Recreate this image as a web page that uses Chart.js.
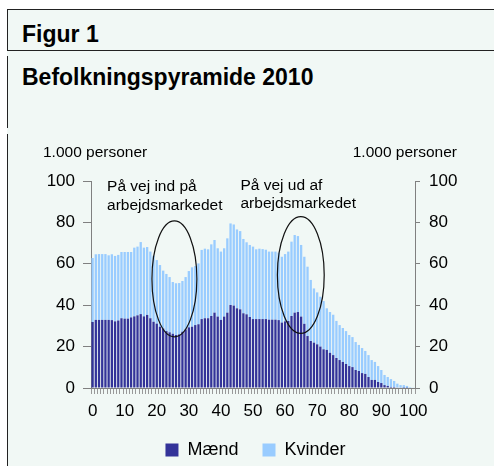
<!DOCTYPE html>
<html>
<head>
<meta charset="utf-8">
<script src="https://cdn.jsdelivr.net/npm/chart.js@4/dist/chart.umd.min.js"></script>
<style>
  html, body { margin: 0; padding: 0; width: 494px; height: 466px; overflow: hidden; background: #fff; }
  body { font-family: Arial, "Liberation Sans", sans-serif; }
  #baggrund { position: absolute; left: 7px; top: 9px; width: 487px; height: 457px; background: #f1f8f5; border-top: 1px solid #222; }
  .streg { position: absolute; background: #222; }
  .titel { position: absolute; left: 22px; font-weight: bold; font-size: 23px; line-height: 23px; color: #000; white-space: nowrap; }
  #graf { position: absolute; left: 0; top: 0; }
</style>
</head>
<body>
<div id="baggrund"></div>
<div class="streg" style="left:7px;top:9px;width:1px;height:42px"></div>
<div class="streg" style="left:7px;top:50px;width:487px;height:1px"></div>
<div class="streg" style="left:7px;top:56px;width:1px;height:72px"></div>
<div class="streg" style="left:7px;top:134px;width:1px;height:332px"></div>
<div class="titel" style="top:23px">Figur 1</div>
<div class="titel" style="top:66px">Befolkningspyramide 2010</div>
<canvas id="graf" width="494" height="480"></canvas>

<script>
// Alder 0-100 år
const alder = [
  '0','1','2','3','4','5','6','7','8','9',
  '10','11','12','13','14','15','16','17','18','19',
  '20','21','22','23','24','25','26','27','28','29',
  '30','31','32','33','34','35','36','37','38','39',
  '40','41','42','43','44','45','46','47','48','49',
  '50','51','52','53','54','55','56','57','58','59',
  '60','61','62','63','64','65','66','67','68','69',
  '70','71','72','73','74','75','76','77','78','79',
  '80','81','82','83','84','85','86','87','88','89',
  '90','91','92','93','94','95','96','97','98','99','100'
];

// Antal mænd (1.000 personer)
const maend = [
  31.9, 32.9, 32.9, 32.9, 32.9, 32.9, 32.8, 32.2, 32.6, 33.7,
  33.5, 33.5, 34.1, 34.6, 35.1, 35.7, 34.6, 35.3, 33.7, 32.0,
  31.1, 29.6, 28.7, 27.5, 26.9, 26.2, 25.6, 25.9, 27.2, 28.3,
  29.3, 29.6, 30.4, 30.8, 33.3, 33.7, 33.7, 34.8, 36.4, 34.5,
  32.9, 34.5, 36.4, 40.1, 39.8, 38.5, 38.0, 36.1, 35.6, 34.3,
  33.3, 33.3, 33.3, 33.3, 33.3, 33.0, 33.0, 33.0, 32.8, 31.6,
  32.2, 32.4, 34.8, 36.4, 36.7, 34.5, 31.0, 25.1, 22.7, 21.9,
  21.1, 20.0, 18.7, 18.4, 17.0, 15.9, 14.5, 13.5, 12.6, 11.6,
  10.6, 10.1, 8.7, 8.2, 7.2, 6.8, 5.3, 3.9, 3.9, 2.9,
  2.4, 1.4, 1.0, 0.5, 0.5, 0.3, 0.2, 0.1, 0.1, 0, 0
];

// Antal kvinder (1.000 personer)
const kvinder = [
  30.9, 31.7, 31.8, 31.8, 31.8, 31.2, 31.8, 31.6, 31.7, 32.0,
  32.2, 32.2, 31.6, 33.2, 33.2, 34.8, 33.2, 32.8, 32.2, 31.9,
  30.7, 29.8, 28.0, 27.6, 26.7, 25.0, 25.0, 24.8, 24.5, 25.3,
  27.2, 28.7, 28.5, 29.4, 33.4, 33.6, 33.3, 34.6, 35.1, 33.0,
  33.0, 33.0, 35.9, 39.4, 39.2, 38.1, 37.8, 35.9, 34.8, 34.8,
  35.0, 33.7, 34.0, 33.8, 33.5, 32.9, 32.9, 32.9, 32.6, 31.8,
  32.5, 33.5, 35.9, 37.5, 36.7, 34.6, 32.4, 33.5, 29.5, 26.2,
  25.1, 24.1, 23.3, 20.1, 19.7, 19.5, 17.9, 16.9, 16.4, 15.9,
  15.0, 14.5, 13.5, 12.6, 12.1, 11.1, 10.6, 9.6, 8.7, 7.7,
  6.3, 4.9, 4.3, 3.8, 2.9, 1.8, 1.2, 1.3, 0.9, 0.5, 0.3
];

// Aksemærker
const xTicks = ['0','10','20','30','40','50','60','70','80','90','100'];
const yTicks = [0, 20, 40, 60, 80, 100];

// Ellipser og tekster (i aksernes enheder: alder, 1.000 personer)
const ellipser = [
  { alder: 25.5, vaerdi: 52.7, rx: 7.0, ry: 28.0 },
  { alder: 64.9, vaerdi: 54.6, rx: 7.3, ry: 28.2 }
];
const tekster = [
  { alder: 4.5, vaerdi: 95.3, tekst: 'På vej ind på' },
  { alder: 4.5, vaerdi: 86.2, tekst: 'arbejdsmarkedet' },
  { alder: 46.1, vaerdi: 95.7, tekst: 'På vej ud af' },
  { alder: 46.1, vaerdi: 87.0, tekst: 'arbejdsmarkedet' }
];

const skrift = 'Arial, "Liberation Sans", sans-serif';
Chart.defaults.font.family = skrift;
Chart.defaults.color = '#000';

// Tegner ellipser, tekster og enhedsangivelser
const ekstra = {
  id: 'ekstra',
  afterDatasetsDraw(chart) {
    const { ctx, chartArea, scales } = chart;
    const x = scales.x, y = scales.y;
    ctx.save();
    ctx.strokeStyle = '#111';
    ctx.lineWidth = 1.2;
    ellipser.forEach(e => {
      const cx = x.getPixelForValue(e.alder);
      const cy = y.getPixelForValue(e.vaerdi);
      const rx = x.getPixelForValue(e.alder + e.rx) - cx;
      const ry = cy - y.getPixelForValue(e.vaerdi + e.ry);
      ctx.beginPath();
      ctx.ellipse(cx, cy, rx, ry, 0, 0, Math.PI * 2);
      ctx.stroke();
    });
    ctx.fillStyle = '#000';
    ctx.font = '15.5px ' + skrift;
    ctx.textBaseline = 'alphabetic';
    ctx.textAlign = 'left';
    tekster.forEach(t => {
      ctx.fillText(t.tekst, x.getPixelForValue(t.alder), y.getPixelForValue(t.vaerdi));
    });
    ctx.font = '15.5px ' + skrift;
    ctx.fillText('1.000 personer', chartArea.left - 48, 157);
    ctx.textAlign = 'right';
    ctx.fillText('1.000 personer', chartArea.right + 42, 157);
    ctx.restore();
  }
};

const ctx = document.getElementById('graf').getContext('2d');
new Chart(ctx, {
  type: 'bar',
  data: {
    labels: alder,
    datasets: [
      { label: 'Mænd', data: maend, backgroundColor: '#333399', barPercentage: 0.72, categoryPercentage: 1.0 },
      { label: 'Kvinder', data: kvinder, backgroundColor: '#99ccff', barPercentage: 0.72, categoryPercentage: 1.0 }
    ]
  },
  options: {
    responsive: false,
    animation: false,
    layout: { padding: { top: 181, left: 17, right: 0, bottom: 11 } },
    plugins: {
      tooltip: { enabled: false },
      legend: {
        position: 'bottom',
        labels: { boxWidth: 13, boxHeight: 13, padding: 24, font: { size: 18 } }
      }
    },
    scales: {
      x: {
        stacked: true,
        afterFit: s => { s.height = 29; },
        border: { color: '#808080' },
        grid: { drawOnChartArea: false, tickLength: 6, color: '#999' },
        ticks: {
          autoSkip: false, maxRotation: 0, padding: 7, font: { size: 17 },
          callback: (v, i) => xTicks.includes(alder[i]) ? alder[i] : ''
        }
      },
      y: {
        stacked: true,
        position: 'left',
        min: 0, max: 100,
        afterFit: s => { s.width = 74; },
        afterBuildTicks: s => { s.ticks = yTicks.map(v => ({ value: v })); },
        border: { color: '#808080' },
        grid: { drawOnChartArea: false, tickLength: 8, color: '#808080' },
        ticks: { padding: 8, font: { size: 17 } }
      },
      y2: {
        position: 'right',
        min: 0, max: 100,
        afterFit: s => { s.width = 79; },
        afterBuildTicks: s => { s.ticks = yTicks.map(v => ({ value: v })); },
        border: { color: '#808080' },
        grid: { drawOnChartArea: false, tickLength: 5, color: '#808080' },
        ticks: { padding: 9, font: { size: 17 } }
      }
    }
  },
  plugins: [ekstra]
});
</script>
</body>
</html>
